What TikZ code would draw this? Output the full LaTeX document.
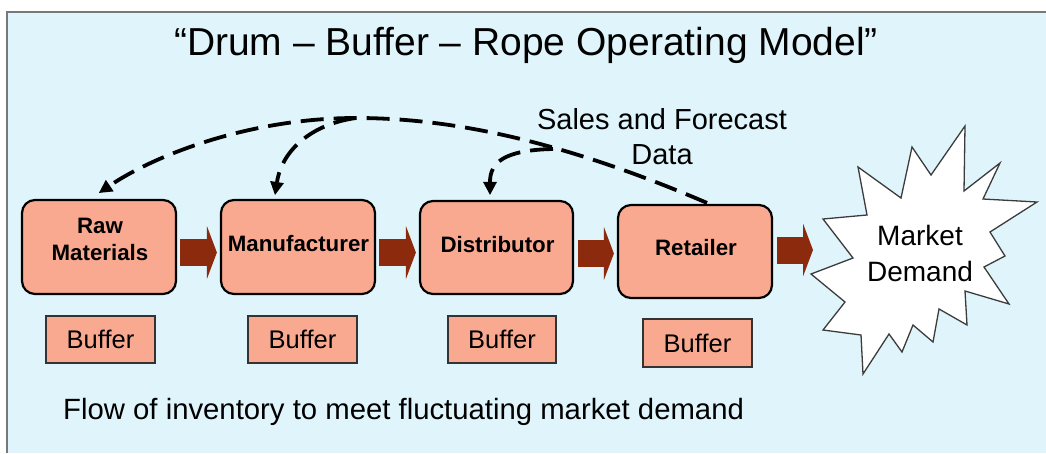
\documentclass[tikz,border=0pt]{standalone}
\usepackage{fontspec}
\setmainfont{Liberation Sans}
\usetikzlibrary{arrows.meta}
\definecolor{panelblue}{RGB}{223,245,251}
\definecolor{framegray}{RGB}{120,120,120}
\definecolor{salmon}{RGB}{249,169,144}
\definecolor{flowred}{RGB}{139,42,12}
\definecolor{burstline}{RGB}{60,60,60}

\begin{document}
\begin{tikzpicture}[x=1pt,y=-1pt,
  stage/.style={draw=black, line width=2.2pt, fill=salmon, rounded corners=13pt,
    minimum width=154pt, minimum height=94pt, inner sep=0pt},
  stagelabel/.style={font=\fontsize{22.3}{27}\selectfont\bfseries, inner sep=0pt, align=center},
  buffer/.style={draw=black!80, line width=1.5pt, fill=salmon, minimum width=109pt,
    minimum height=47pt, inner sep=0pt, font=\fontsize{25.5}{30}\selectfont},
  flow/.style={line width=27pt, draw=flowred,
    -{Triangle[length=10pt,width=53pt,line width=0pt]}},
  signal/.style={line width=3.8pt, dash pattern=on 23pt off 10pt,
    -{Triangle[length=13pt,width=14pt,line width=0pt]}},
  plain/.style={inner sep=0pt}]

\useasboundingbox (0,0) rectangle (1046,453);

% panel
\fill[panelblue] (7,12) rectangle (1046,453);
\draw[framegray, line width=1.5pt] (7,453) -- (7,12) -- (1046,12);

% title
\node[plain, anchor=base, font=\fontsize{39}{47}\selectfont] (title) at (526,55)
  {“Drum – Buffer – Rope Operating Model”};

% supply chain stages
\node[stage] (raw) at (99,247) {};
\node[stage] (manu) at (298,247) {};
\node[stage, minimum width=153pt, minimum height=93pt] (dist) at (496.5,247.5) {};
\node[stage, minimum height=93pt] (ret) at (695,251.5) {};

\node[stagelabel] (rawtxt) at (100,239.5) {Raw\\Materials};
\node[stagelabel, anchor=base] (manutxt) at (298.5,251.7) {Manufacturer};
\node[stagelabel, anchor=base] (disttxt) at (497.5,252) {Distributor};
\node[stagelabel, anchor=base] (rettxt) at (696,255.7) {Retailer};

% buffers
\node[buffer] (buf1) at (100.5,339.5) {Buffer};
\node[buffer] (buf2) at (302.5,339.5) {Buffer};
\node[buffer, minimum width=108pt] (buf3) at (502,339.5) {Buffer};
\node[buffer, minimum height=48pt] (buf4) at (697.5,343) {Buffer};

% market demand burst
\filldraw[fill=white, draw=burstline, line width=1.3pt, line join=miter]
  (1037,202) -- (990,232) -- (1005,256) -- (984,267) -- (1009,304) -- (965,291)
  -- (967,325) -- (939,309) -- (933,342) -- (913,325) -- (902,352) -- (889,334)
  -- (863,374) -- (861,335) -- (823,330) -- (845,302) -- (811,274) -- (853,258)
  -- (823,219) -- (867,215) -- (858,167) -- (901,198) -- (912,147) -- (931,175)
  -- (965,126) -- (964,191) -- (1000,163) -- (983,199) -- cycle;
\node[plain, align=center, font=\fontsize{28}{36}\selectfont] (demand) at (920,253.8)
  {Market\\Demand};
\coordinate (burstin) at (813,250);

% inventory flow
\draw[flow, shorten <=3pt, shorten >=3pt]
  ([yshift=-5.5pt]raw.east) -- ([yshift=-5.5pt]raw.east -| manu.west);
\draw[flow, shorten <=3pt, shorten >=3pt]
  ([yshift=-5.5pt]manu.east) -- ([yshift=-5.5pt]manu.east -| dist.west);
\draw[flow, shorten <=4pt, shorten >=3pt]
  ([yshift=-6pt]dist.east) -- ([yshift=-6pt]dist.east -| ret.west);
\draw[flow, shorten <=4pt]
  ([yshift=1.5pt]ret.east) -- (burstin);

% sales and forecast data
\coordinate (fork1) at (356,118);
\coordinate (fork2) at (553,149);
\draw[signal] ([xshift=12pt,yshift=1pt]ret.north)
  .. controls (560,140) and (450,118) .. (fork1)
  .. controls (250,118) and (155,155) .. ([yshift=6pt]raw.north);
\draw[signal] (fork1) .. controls (312,124) and (282,150) .. ([xshift=-23pt,yshift=4pt]manu.north);
\draw[signal] (fork2) .. controls (505,150) and (490,162) .. ([xshift=-6.5pt,yshift=5pt]dist.north);

\node[plain, align=center, font=\fontsize{29}{35}\selectfont] (sales) at (662,136.5)
  {Sales and Forecast\\Data};

% caption
\node[plain, anchor=base west, font=\fontsize{29.3}{35}\selectfont] (caption) at (63,419)
  {Flow of inventory to meet fluctuating market demand};

\end{tikzpicture}
\end{document}
